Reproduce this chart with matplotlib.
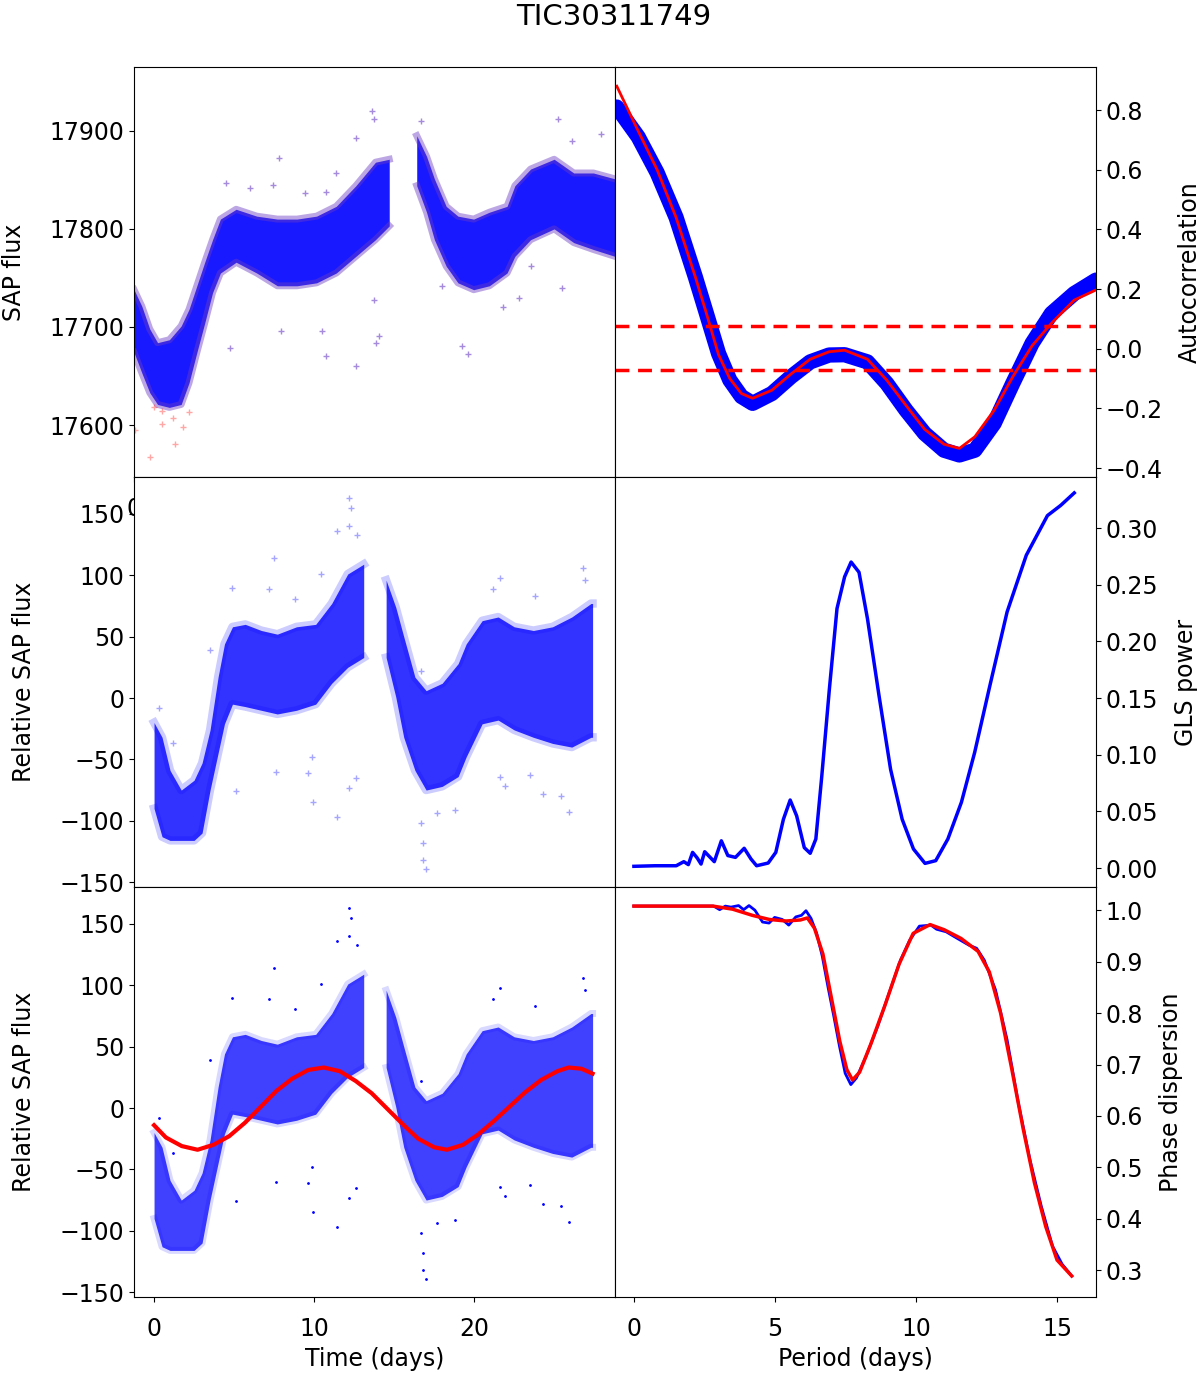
import numpy as np
import matplotlib.pyplot as plt

# ---- data ----
# top-left: raw SAP flux, dense band (two orbit segments) + scattered points
sap_t1 = [0.0, 0.4, 0.8, 1.2, 1.8, 2.4, 2.8, 3.2, 3.6, 4.0, 4.4, 5.2, 6.25, 7.3, 8.3, 9.3, 10.3, 11.3, 12.3, 13.0]
sap_hi1 = [17738, 17721, 17698, 17684, 17687, 17701, 17718, 17742, 17766, 17789, 17810, 17820, 17813, 17810, 17810, 17813, 17823, 17844, 17868, 17871]
sap_lo1 = [17674, 17653, 17633, 17621, 17618, 17621, 17643, 17674, 17704, 17735, 17755, 17766, 17755, 17742, 17742, 17745, 17755, 17772, 17789, 17803]
sap_t2 = [14.4, 14.9, 15.3, 15.9, 16.5, 17.3, 18.1, 19.0, 19.4, 20.2, 21.4, 22.4, 23.4, 24.5, 26.1, 27.4]
sap_hi2 = [17895, 17874, 17851, 17823, 17813, 17810, 17817, 17823, 17844, 17861, 17871, 17857, 17857, 17851, 17845, 17860]
sap_lo2 = [17844, 17817, 17789, 17762, 17745, 17738, 17742, 17755, 17772, 17789, 17800, 17786, 17779, 17772, 17765, 17770]
sap_out_t = [12.1, 12.2, 11.3, 7.4, 10.3, 4.7, 7.1, 5.9, 8.7, 9.8, 4.9, 7.5, 9.8, 11.3, 12.3, 12.5, 9.6, 12.2,
             16.7, 17.0, 21.6, 22.3, 23.8, 21.8, 20.2, 18.8, 19.6, 14.6, 15.7]
sap_out_f = [17920, 17912, 17893, 17872, 17857, 17847, 17845, 17842, 17837, 17838, 17679, 17696, 17670, 17660, 17684, 17691, 17696, 17727,
             17681, 17672, 17912, 17890, 17897, 17740, 17762, 17720, 17730, 17910, 17742]
clip_t = [0.8, 2.1, 1.4, 1.4, 2.5, 2.8, 1.0, 2.0, 0.04]
clip_f = [17567, 17581, 17614, 17601, 17598, 17613, 17618, 17607, 17595]

# middle/bottom-left: relative SAP flux after cleaning
rel_t1 = [0.0, 0.5, 1.0, 1.7, 2.5, 3.0, 3.5, 4.0, 4.4, 4.9, 5.7, 6.7, 7.7, 8.9, 10.1, 11.1, 12.1, 13.1]
rel_hi1 = [-20, -32, -59, -75, -67, -53, -26, 17, 44, 58, 60, 55, 52, 58, 60, 77, 101, 109]
rel_lo1 = [-90, -113, -116, -116, -116, -110, -75, -45, -21, -5, -7, -10, -13, -10, -5, 12, 25, 33]
rel_t2 = [14.5, 15.1, 15.6, 16.3, 17.0, 18.0, 19.0, 19.5, 20.5, 21.5, 22.5, 23.7, 24.9, 26.1, 27.3, 27.4]
rel_hi2 = [96, 74, 50, 17, 6, 12, 28, 44, 63, 66, 58, 55, 58, 66, 77, 77]
rel_lo2 = [33, 1, -32, -59, -75, -72, -64, -48, -21, -18, -26, -32, -37, -40, -32, -32]
rel_out_t = [12.2, 12.3, 12.2, 11.4, 12.7, 7.5, 10.4, 4.9, 7.2, 8.8, 21.6, 26.8, 26.9, 23.8, 21.2, 3.5, 16.7,
             5.1, 7.6, 9.6, 9.95, 11.4, 12.2, 12.6, 9.9, 16.8, 16.8, 17.0, 16.7, 17.7, 18.8, 21.9, 24.3, 25.9,
             25.4, 21.6, 23.5, 0.3, 1.2]
rel_out_f = [163, 155, 140, 136, 133, 114, 101, 90, 89, 81, 98, 106, 96, 83, 89, 39, 22,
             -76, -60, -61, -85, -97, -73, -65, -48, -118, -132, -139, -102, -94, -91, -72, -78, -93,
             -80, -64, -63, -8, -37]

# sine fit (bottom-left)
fit_t = [0.0, 0.74, 1.73, 2.72, 3.7, 4.69, 5.68, 6.67, 7.65, 8.64, 9.63, 10.6, 11.6, 12.6, 13.6, 14.6, 15.6,
         16.5, 17.5, 18.3, 19.3, 20.2, 21.2, 22.2, 23.2, 24.2, 25.2, 25.9, 26.7, 27.4]
fit_f = [-14, -24, -31, -34, -30, -23, -12, 1, 14, 24, 31, 33, 30, 22, 12, -1, -14,
         -25, -32, -34, -30, -22, -11, 1, 13, 23, 30, 33, 32, 28]

# ACF (top-right), lag in days
acf_lag = [0.05, 0.66, 1.2, 1.74, 2.29, 2.6, 2.95, 3.27, 3.6, 3.92, 4.47, 5.01, 5.56, 6.1, 6.54, 7.19,
           7.74, 8.29, 8.82, 9.37, 9.81, 10.25, 10.8, 11.33, 11.88, 12.43, 13.08, 13.7]
acf_val = [0.81, 0.71, 0.59, 0.44, 0.24, 0.12, -0.016, -0.105, -0.16, -0.183, -0.15, -0.094, -0.044, -0.021,
           -0.02, -0.044, -0.116, -0.206, -0.284, -0.34, -0.356, -0.34, -0.25, -0.116, 0.018, 0.118, 0.185, 0.23]
acf_fit = [0.88, 0.73, 0.60, 0.44, 0.24, 0.12, -0.02, -0.10, -0.15, -0.166, -0.139, -0.085, -0.035, -0.01,
           -0.005, -0.035, -0.105, -0.19, -0.27, -0.32, -0.334, -0.295, -0.206, -0.094, 0.01, 0.085, 0.163, 0.197]
acf_levels = [0.077, -0.072]

# GLS periodogram (middle-right)
gls_p = [0.0, 0.75, 1.5, 1.77, 1.93, 2.08, 2.24, 2.38, 2.51, 2.85, 3.10, 3.33, 3.60, 3.91, 4.15, 4.35, 4.76,
         5.03, 5.30, 5.54, 5.77, 6.04, 6.25, 6.45, 6.66, 6.93, 7.20, 7.47, 7.70, 7.98, 8.28, 8.69, 9.10,
         9.51, 9.91, 10.32, 10.70, 11.13, 11.61, 12.08, 12.62, 13.23, 13.91, 14.66, 15.13, 15.61]
gls_pow = [0.0015, 0.002, 0.002, 0.0056, 0.003, 0.0138, 0.009, 0.0035, 0.0144, 0.0056, 0.024, 0.011, 0.0094,
           0.0174, 0.008, 0.002, 0.0044, 0.0138, 0.043, 0.060, 0.046, 0.018, 0.013, 0.0256, 0.081, 0.158,
           0.229, 0.257, 0.270, 0.261, 0.220, 0.152, 0.087, 0.043, 0.0168, 0.0041, 0.0065, 0.0256, 0.058,
           0.102, 0.161, 0.226, 0.276, 0.311, 0.320, 0.331]

# PDM (bottom-right)
pdm_p = [0.0, 2.83, 3.04, 3.24, 3.44, 3.71, 3.89, 4.08, 4.29, 4.56, 4.79, 4.99, 5.26, 5.49, 5.74, 5.94, 6.10,
         6.28, 6.48, 6.68, 6.88, 7.09, 7.29, 7.49, 7.69, 7.89, 8.23, 8.64, 9.04, 9.45, 9.78, 10.12, 10.53,
         10.73, 11.07, 11.47, 11.88, 12.15, 12.42, 12.82, 13.23, 13.63, 14.04, 14.44, 14.84, 15.18, 15.52]
pdm_theta = [1.008, 1.008, 1.001, 1.008, 1.006, 1.009, 1.001, 1.009, 1.0, 0.977, 0.975, 0.986, 0.982, 0.971,
             0.987, 0.99, 0.999, 0.984, 0.955, 0.91, 0.851, 0.793, 0.735, 0.683, 0.661, 0.674, 0.716, 0.774,
             0.838, 0.903, 0.942, 0.969, 0.971, 0.963, 0.958, 0.945, 0.932, 0.926, 0.903, 0.845, 0.748,
             0.625, 0.515, 0.425, 0.347, 0.312, 0.289]
pdm_sp = [0.0, 2.8, 3.5, 4.2, 4.8, 5.4, 5.9, 6.15, 6.4, 6.7, 7.0, 7.3, 7.55, 7.75, 8.0, 8.4, 8.9, 9.4, 9.9,
          10.5, 11.0, 11.6, 12.2, 12.6, 13.0, 13.4, 13.8, 14.2, 14.6, 15.0, 15.52]
pdm_smooth = [1.008, 1.008, 1.002, 0.99, 0.982, 0.979, 0.981, 0.985, 0.965, 0.915, 0.83, 0.745, 0.69, 0.670,
              0.685, 0.74, 0.815, 0.895, 0.955, 0.972, 0.962, 0.945, 0.92, 0.88, 0.8, 0.69, 0.575, 0.47,
              0.385, 0.32, 0.289]

plt.rcParams['font.size'] = 17
plt.rcParams['xtick.major.pad'] = 11
fig = plt.figure(figsize=(12, 13.74), dpi=100)

L, W = 0.1117, 0.4008
rows = [0.6528, 0.3544, 0.0560]
H = 0.2984

ax1 = fig.add_axes([L, rows[0], W, H])
ax2 = fig.add_axes([L + W, rows[0], W, H])
ax3 = fig.add_axes([L, rows[1], W, H])
ax4 = fig.add_axes([L + W, rows[1], W, H])
ax5 = fig.add_axes([L, rows[2], W, H], sharex=ax3)
ax6 = fig.add_axes([L + W, rows[2], W, H], sharex=ax4)

purple = '#6b3cc4'
lpad_l = 17
lpad_r = 11

# top-left
for t, lo, hi in [(sap_t1, sap_lo1, sap_hi1), (sap_t2, sap_lo2, sap_hi2)]:
    ax1.fill_between(t, lo, hi, color='b', alpha=0.9, lw=0)
    ax1.plot(t, hi, color=purple, lw=5, alpha=0.45)
    ax1.plot(t, lo, color=purple, lw=5, alpha=0.45)
ax1.plot(clip_t, clip_f, '+', color='r', ms=5, alpha=0.35)
ax1.plot(sap_out_t, sap_out_f, '+', color=purple, ms=5, alpha=0.6)
ax1.set_xlim(0, 24.5)
ax1.set_ylim(17547, 17965)
ax1.set_yticks([17600, 17700, 17800, 17900])
ax1.set_ylabel('SAP flux', labelpad=lpad_l)

# top-right
ax2.plot(acf_lag, acf_val, color='b', lw=11, solid_capstyle='round')
ax2.plot(acf_lag, acf_fit, color='r', lw=2)
for lev in acf_levels:
    ax2.axhline(lev, color='r', ls='--', lw=2.5, dashes=(4, 2.5))
ax2.set_xlim(0, 13.7)
ax2.set_ylim(-0.43, 0.944)
ax2.set_yticks([-0.4, -0.2, 0.0, 0.2, 0.4, 0.6, 0.8])
ax2.tick_params(labelbottom=False, bottom=False)
ax2.yaxis.tick_right()
ax2.yaxis.set_label_position('right')
ax2.set_ylabel('Autocorrelation', labelpad=lpad_r)

# middle-left
for t, lo, hi in [(rel_t1, rel_lo1, rel_hi1), (rel_t2, rel_lo2, rel_hi2)]:
    ax3.fill_between(t, lo, hi, color='b', alpha=0.8, lw=0)
    ax3.plot(t, hi, color='b', lw=6, alpha=0.2)
    ax3.plot(t, lo, color='b', lw=6, alpha=0.2)
ax3.plot(rel_out_t, rel_out_f, '+', color='b', ms=5, alpha=0.35)
ax3.set_ylim(-154, 180)
ax3.set_yticks([-150, -100, -50, 0, 50, 100, 150])
ax3.set_ylabel('Relative SAP flux', labelpad=lpad_l)
ax3.tick_params(labelbottom=False)

# middle-right
ax4.plot(gls_p, gls_pow, color='b', lw=2.5)
ax4.set_ylim(-0.0168, 0.345)
ax4.set_yticks([0.0, 0.05, 0.10, 0.15, 0.20, 0.25, 0.30])
ax4.yaxis.tick_right()
ax4.yaxis.set_label_position('right')
ax4.set_ylabel('GLS power', labelpad=lpad_r)
ax4.tick_params(labelbottom=False)

# bottom-left
for t, lo, hi in [(rel_t1, rel_lo1, rel_hi1), (rel_t2, rel_lo2, rel_hi2)]:
    ax5.fill_between(t, lo, hi, color='b', alpha=0.75, lw=0)
    ax5.plot(t, hi, color='b', lw=5, alpha=0.15)
    ax5.plot(t, lo, color='b', lw=5, alpha=0.15)
ax5.plot(rel_out_t, rel_out_f, '.', color='b', ms=2)
ax5.plot(fit_t, fit_f, color='r', lw=3)
ax5.set_xlim(-1.25, 28.8)
ax5.set_ylim(-154, 180)
ax5.set_yticks([-150, -100, -50, 0, 50, 100, 150])
ax5.set_xticks([0, 10, 20])
ax5.set_ylabel('Relative SAP flux', labelpad=lpad_l)
ax5.set_xlabel('Time (days)')

# bottom-right
ax6.plot(pdm_p, pdm_theta, color='b', lw=2)
ax6.plot(pdm_sp, pdm_smooth, color='r', lw=2.5)
ax6.set_xlim(-0.67, 16.38)
ax6.set_ylim(0.248, 1.045)
ax6.set_yticks([0.3, 0.4, 0.5, 0.6, 0.7, 0.8, 0.9, 1.0])
ax6.set_xticks([0, 5, 10, 15])
ax6.yaxis.tick_right()
ax6.yaxis.set_label_position('right')
ax6.set_ylabel('Phase dispersion', labelpad=lpad_r)
ax6.set_xlabel('Period (days)')

fig.text(0.511, 0.9818, 'TIC30311749', ha='center', va='baseline', fontsize=21)

fig.savefig('out.png', dpi=100, facecolor='white')
